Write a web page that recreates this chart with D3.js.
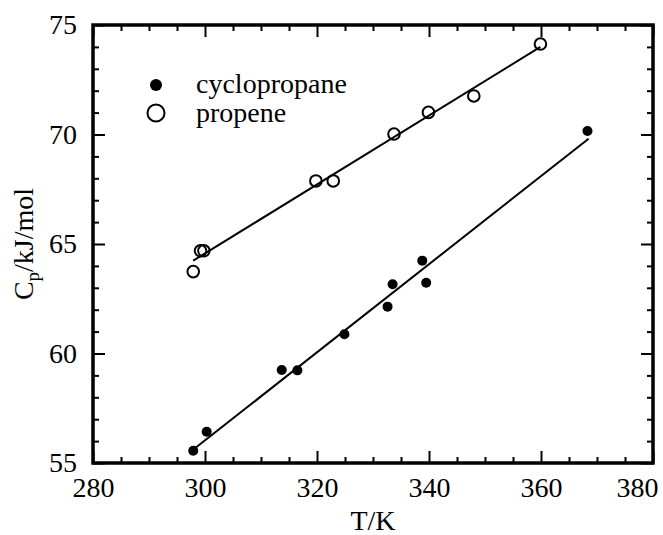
<!DOCTYPE html>
<html>
<head>
<meta charset="utf-8">
<script src="https://cdn.jsdelivr.net/npm/d3@7"></script>
<style>
  html, body { margin: 0; padding: 0; background: #fff; }
  svg text { font-family: "Liberation Serif", "Times New Roman", serif; fill: #000; }
</style>
</head>
<body>
<svg id="chart" width="663" height="535"></svg>
<script>
// ---- data ----
const cycloT  = [297.9, 300.3, 313.7, 316.5, 324.9, 332.6, 333.5, 338.8, 339.5, 368.3];
const cycloCp = [55.56, 56.43, 59.25, 59.23, 60.88, 62.14, 63.16, 64.24, 63.23, 70.16];
const propT   = [297.9, 299.2, 299.8, 319.8, 322.9, 333.75, 339.9, 348.0, 359.9];
const propCp  = [63.74, 64.69, 64.69, 67.88, 67.88, 70.02, 71.01, 71.76, 74.13];
const cycloFitT  = [298.2, 368.5];
const cycloFitCp = [55.67, 69.81];
const propFitT   = [297.9, 359.9];
const propFitCp  = [64.24, 74.0];
const xTicks = [280, 300, 320, 340, 360, 380];
const yTicks = [55, 60, 65, 70, 75];
const legendLabels = ["cyclopropane", "propene"];

// ---- layout ----
const svg = d3.select("#chart");
const L = 93, R = 653, T = 25, B = 463;
const x = d3.scaleLinear().domain([280, 380]).range([L, R]);
const y = d3.scaleLinear().domain([55, 75]).range([B, T]);
const xMinor = d3.range(280, 381, 5).filter(v => v % 20 !== 0);
const yMinor = d3.range(55, 76, 1).filter(v => v % 5 !== 0);

function styleAxis(g) {
  g.select(".domain").remove();
  g.selectAll(".tick line").attr("stroke", "#000").attr("stroke-width", 2);
  g.selectAll(".tick text").attr("font-size", 28).attr("font-family", "Liberation Serif, serif");
}

// bottom
const bottomAxis = svg.append("g").attr("transform", `translate(0,${B})`)
  .call(d3.axisBottom(x).tickValues(xTicks).tickSize(-12).tickPadding(14).tickFormat(d3.format("d")))
  .call(styleAxis);
// keep the last label inside the picture, as in the reference
bottomAxis.selectAll(".tick text").filter(d => d === xTicks[xTicks.length - 1])
  .attr("text-anchor", "end").attr("x", 5);
svg.append("g").attr("transform", `translate(0,${B})`)
  .call(d3.axisBottom(x).tickValues(xMinor).tickSize(-6).tickFormat(""))
  .call(styleAxis);
// top
svg.append("g").attr("transform", `translate(0,${T})`)
  .call(d3.axisTop(x).tickValues(xTicks).tickSize(-12).tickFormat(""))
  .call(styleAxis);
svg.append("g").attr("transform", `translate(0,${T})`)
  .call(d3.axisTop(x).tickValues(xMinor).tickSize(-6).tickFormat(""))
  .call(styleAxis);
// left
svg.append("g").attr("transform", `translate(${L},0)`)
  .call(d3.axisLeft(y).tickValues(yTicks).tickSize(-12).tickPadding(16).tickFormat(d3.format("d")))
  .call(styleAxis);
svg.append("g").attr("transform", `translate(${L},0)`)
  .call(d3.axisLeft(y).tickValues(yMinor).tickSize(-6).tickFormat(""))
  .call(styleAxis);
// right
svg.append("g").attr("transform", `translate(${R},0)`)
  .call(d3.axisRight(y).tickValues(yTicks).tickSize(-12).tickFormat(""))
  .call(styleAxis);
svg.append("g").attr("transform", `translate(${R},0)`)
  .call(d3.axisRight(y).tickValues(yMinor).tickSize(-6).tickFormat(""))
  .call(styleAxis);

// frame
svg.append("rect").attr("x", L).attr("y", T).attr("width", R - L).attr("height", B - T)
  .attr("fill", "none").attr("stroke", "#000").attr("stroke-width", 3.5);

// fit lines
const line = d3.line().x(d => x(d[0])).y(d => y(d[1]));
svg.append("path").datum(d3.zip(cycloFitT, cycloFitCp)).attr("d", line)
  .attr("fill", "none").attr("stroke", "#000").attr("stroke-width", 2);
svg.append("path").datum(d3.zip(propFitT, propFitCp)).attr("d", line)
  .attr("fill", "none").attr("stroke", "#000").attr("stroke-width", 2);

// points
svg.append("g").selectAll("circle").data(d3.zip(cycloT, cycloCp)).join("circle")
  .attr("cx", d => x(d[0])).attr("cy", d => y(d[1])).attr("r", 5).attr("fill", "#000");
svg.append("g").selectAll("circle").data(d3.zip(propT, propCp)).join("circle")
  .attr("cx", d => x(d[0])).attr("cy", d => y(d[1])).attr("r", 5.8)
  .attr("fill", "none").attr("stroke", "#000").attr("stroke-width", 2);

// legend
const lg = svg.append("g");
lg.append("circle").attr("cx", 156).attr("cy", 85).attr("r", 6).attr("fill", "#000");
lg.append("circle").attr("cx", 156).attr("cy", 113).attr("r", 8.5)
  .attr("fill", "none").attr("stroke", "#000").attr("stroke-width", 2);
lg.append("text").attr("x", 196).attr("y", 93).attr("font-size", 28).text(legendLabels[0]);
lg.append("text").attr("x", 196).attr("y", 122).attr("font-size", 28).text(legendLabels[1]);

// axis titles
svg.append("text").attr("x", (L + R) / 2).attr("y", 530).attr("text-anchor", "middle")
  .attr("font-size", 28).text("T/K");
const yl = svg.append("text").attr("transform", `translate(33,${(T + B) / 2}) rotate(-90)`)
  .attr("text-anchor", "middle").attr("font-size", 28);
yl.append("tspan").text("C");
yl.append("tspan").attr("font-size", 19).attr("dy", 6).text("p");
yl.append("tspan").attr("dy", -6).text("/kJ/mol");
</script>
</body>
</html>
